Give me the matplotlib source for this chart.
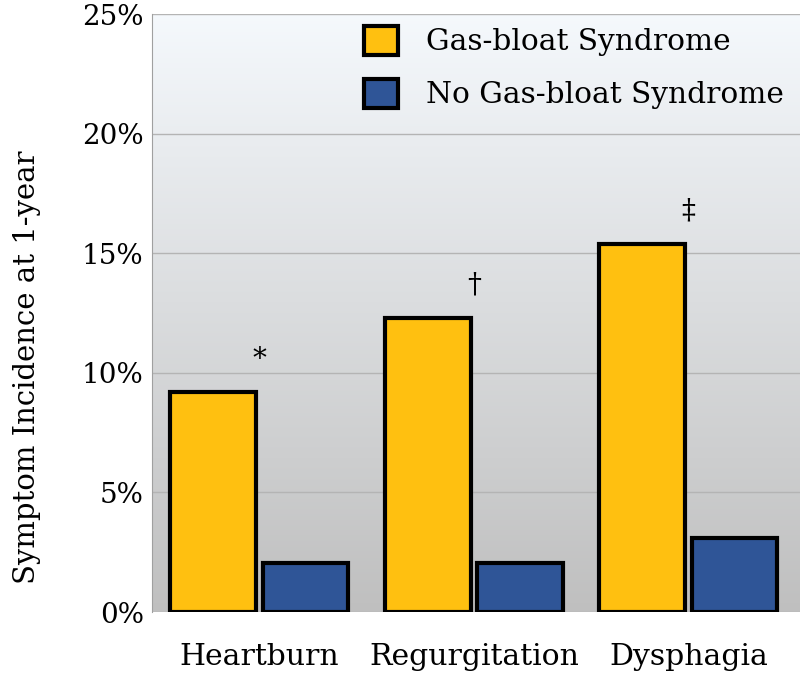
import matplotlib.pyplot as plt
import numpy as np
from matplotlib.patches import Patch

categories = ["Heartburn", "Regurgitation", "Dysphagia"]
gas_bloat = [9.2, 12.3, 15.4]
no_gas_bloat = [2.05, 2.05, 3.1]
markers = ["*", "\u2020", "\u2021"]
yticks = [0, 5, 10, 15, 20, 25]

plt.rcParams['font.family'] = ['DejaVu Serif']

fig = plt.figure(figsize=(8, 6.77), dpi=100)
ax = fig.add_axes([0.19, 0.096, 0.81, 0.883])

# gradient background, white at top to grey at bottom
grad = np.linspace(0, 1, 256).reshape(-1, 1)
top = np.array([0.96, 0.975, 0.99])
bot = np.array([0.75, 0.75, 0.75])
img = top + (bot - top) * grad[:, :, None]
ax.imshow(img, extent=[-0.5, 2.52, 0, 25], aspect='auto', zorder=0, origin='upper')

x = np.arange(len(categories))
w = 0.4
gap = 0.015
ax.bar(x - w / 2 - gap, gas_bloat, w, color='#FFC010', edgecolor='black', linewidth=3, zorder=3)
ax.bar(x + w / 2 + gap, no_gas_bloat, w, color='#2F5597', edgecolor='black', linewidth=3, zorder=3)

for i, m in enumerate(markers):
    ax.text(x[i], gas_bloat[i] + 0.8, m, ha='center', va='bottom', fontsize=20, zorder=4)

ax.set_xlim(-0.5, 2.52)
ax.set_ylim(0, 25)
ax.set_yticks(yticks)
ax.set_yticklabels([f"{t}%" for t in yticks], fontsize=20)
ax.set_xticks(x)
ax.set_xticklabels(categories, fontsize=21.5)
ax.tick_params(axis='y', length=0, pad=6)
ax.tick_params(axis='x', length=0, pad=22)
ax.set_ylabel("Symptom Incidence at 1-year", fontsize=21)
ax.yaxis.set_label_coords(-0.171, 0.41)
ax.yaxis.grid(True, color='#b4b4b4', linewidth=1, zorder=1)
ax.set_axisbelow(True)
for s in ['top', 'right', 'bottom']:
    ax.spines[s].set_visible(False)
ax.spines['left'].set_color('#a0a0a0')

handles = [Patch(facecolor='#FFC010', edgecolor='black', linewidth=3),
           Patch(facecolor='#2F5597', edgecolor='black', linewidth=3)]
ax.legend(handles, ['Gas-bloat Syndrome', 'No Gas-bloat Syndrome'], loc='upper right',
          frameon=False, fontsize=21.3, handlelength=1.15, handleheight=1.15,
          handletextpad=0.95, labelspacing=0.75, bbox_to_anchor=(1.009, 1.018),
          borderpad=0.25)

fig.savefig("out.png", dpi=100)
